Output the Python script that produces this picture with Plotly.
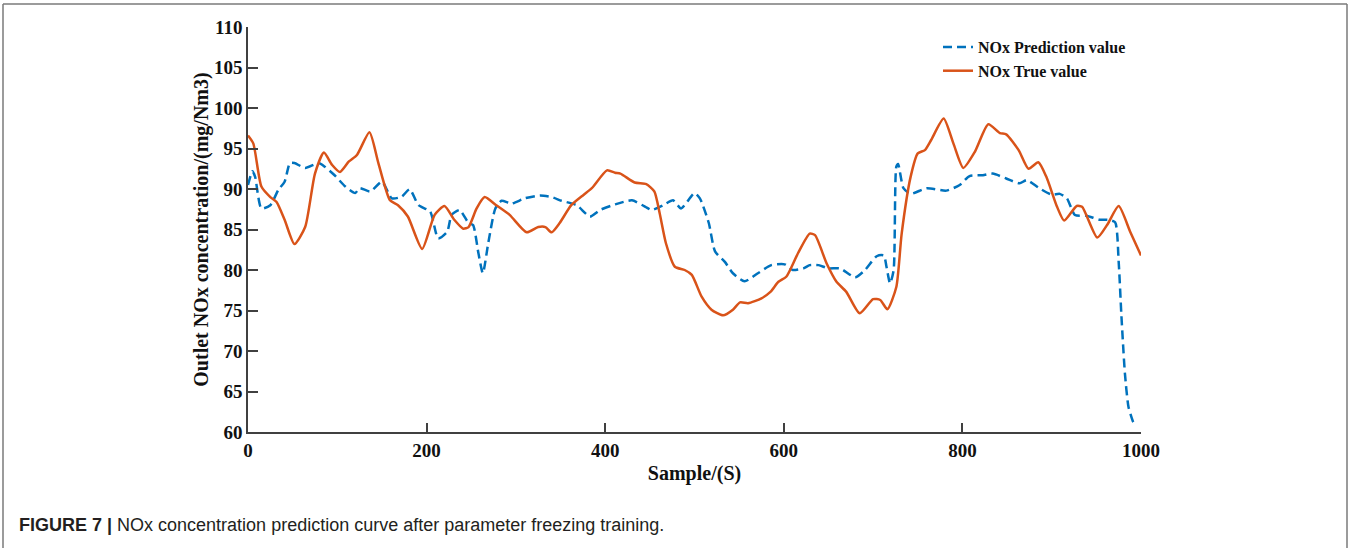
import plotly.graph_objects as go

# ---- data ----
true_x = [0, 6, 15, 25, 32, 41, 52, 64, 75, 85, 94, 103, 113, 122, 136, 146, 159, 168, 179, 195,
          209, 220, 231, 241, 247, 256, 265, 278, 293, 312, 325, 333, 340, 349, 362, 376, 385, 402,
          411, 417, 433, 446, 455, 461, 468, 478, 489, 497, 508, 519, 532, 543, 551, 560, 575, 585,
          594, 603, 616, 629, 635, 648, 659, 670, 685, 700, 708, 716, 726, 732, 742, 750, 758, 765,
          779, 790, 801, 814, 829, 842, 849, 863, 874, 885, 894, 906, 914, 928, 934, 951, 962, 975,
          988, 1000]
true_y = [96.6, 95.6, 90.3, 89.0, 88.4, 86.2, 83.2, 85.3, 91.9, 94.5, 93.0, 92.1, 93.4, 94.2, 97.0,
          93.2, 88.6, 88.0, 86.6, 82.6, 86.8, 87.9, 86.2, 85.1, 85.3, 87.6, 89.0, 88.0, 86.8, 84.65,
          85.3, 85.3, 84.65, 85.8, 88.0, 89.3, 90.1, 92.3, 92.0, 91.9, 90.8, 90.6, 89.7, 87.0, 83.3,
          80.4, 80.0, 79.4, 76.7, 75.1, 74.4, 75.1, 76.0, 75.9, 76.5, 77.3, 78.55, 79.2, 82.1, 84.5,
          84.3, 80.8, 78.55, 77.3, 74.65, 76.4, 76.3, 75.15, 77.9, 84.5, 91.5, 94.4, 94.8, 96.05,
          98.7, 95.6, 92.6, 94.6, 98.0, 96.9, 96.75, 94.8, 92.5, 93.3, 91.5, 87.8, 86.1, 87.9, 87.8,
          84.0, 85.55, 87.9, 84.7, 81.8]

pred_x = [0, 5, 8, 15, 25, 34, 41, 47, 52, 64, 79, 86, 97, 109, 120, 125, 137, 150, 161, 172, 181,
          191, 204, 213, 223, 228, 237, 247, 252, 258, 263, 269, 277, 284, 295, 310, 327, 340, 351,
          368, 383, 394, 411, 430, 445, 452, 465, 476, 485, 500, 506, 516, 523, 534, 543, 556, 571,
          586, 601, 610, 622, 629, 639, 650, 663, 680, 691, 704, 712, 715, 719, 723, 726, 728, 734,
          742, 760, 782, 797, 808, 823, 834, 849, 864, 872, 886, 900, 909, 917, 926, 939, 954, 963,
          971, 975, 978, 982, 986, 991, 993]
pred_y = [90.5, 92.2, 91.5, 87.6, 88.0, 89.9, 90.9, 93.2, 93.2, 92.6, 93.2, 92.75, 91.7, 90.3, 89.5,
          90.1, 89.7, 90.9, 88.85, 89.05, 89.96, 88.0, 87.2, 83.9, 84.7, 86.8, 87.4, 85.8, 85.55,
          82.1, 79.6, 83.3, 87.6, 88.55, 88.2, 88.85, 89.2, 89.0, 88.55, 88.0, 86.6, 87.4, 88.1,
          88.6, 87.8, 87.4, 88.0, 88.6, 87.6, 89.5, 88.85, 85.8, 82.3, 81.0, 79.6, 78.6, 79.6, 80.6,
          80.7, 80.0, 80.2, 80.6, 80.6, 80.2, 80.2, 79.1, 80.0, 81.7, 81.8, 80.4, 78.35, 80.0, 92.75,
          93.1, 90.1, 89.4, 90.1, 89.8, 90.5, 91.6, 91.7, 91.9, 91.3, 90.7, 91.1, 90.1, 89.3, 89.4,
          88.85, 86.8, 86.7, 86.2, 86.2, 85.9, 81.0, 74.5, 67.2, 63.1, 61.3, 60.9]

x_ticks = [0, 200, 400, 600, 800, 1000]
y_ticks = [60, 65, 70, 75, 80, 85, 90, 95, 100, 105, 110]

SERIF = "Liberation Serif"
AX = "#404040"

fig = go.Figure()
fig.add_trace(go.Scatter(
    x=pred_x, y=pred_y, mode="lines", name="NOx Prediction value",
    line=dict(color="#0072BD", width=2.5, dash="9px,5px", shape="spline", smoothing=0.6),
))
fig.add_trace(go.Scatter(
    x=true_x, y=true_y, mode="lines", name="NOx True value",
    line=dict(color="#D95319", width=2.5, shape="spline", smoothing=0.6),
))

L, R, T, B = 248, 210, 27, 116
W, H = 1351, 548
pw, ph = W - L - R, H - T - B


def px(xp):
    return (xp - L) / pw


def py(yp):
    return (H - B - yp) / ph


fig.update_layout(
    width=W, height=H, autosize=False,
    margin=dict(l=L, r=R, t=T, b=B, pad=0),
    paper_bgcolor="white", plot_bgcolor="white",
    showlegend=True,
    legend=dict(
        x=px(938), y=py(30), xanchor="left", yanchor="top",
        bgcolor="rgba(0,0,0,0)", borderwidth=0,
        font=dict(family=SERIF, size=16, color="#111", weight="bold"),
        tracegroupgap=0,
    ),
    xaxis=dict(
        range=[0, 1000], tickvals=x_ticks, ticktext=[str(v) for v in x_ticks],
        ticks="inside", ticklen=9, tickwidth=1.5, tickcolor=AX,
        showline=True, linecolor=AX, linewidth=1.5, mirror=False,
        showgrid=False, zeroline=False,
        tickfont=dict(family=SERIF, size=19, color="#111", weight="bold"),
        title=dict(text="Sample/(S)", standoff=6,
                   font=dict(family=SERIF, size=20, color="#111", weight="bold")),
    ),
    yaxis=dict(
        range=[60, 110], tickvals=y_ticks, ticktext=[str(v) for v in y_ticks],
        ticks="inside", ticklen=10, tickwidth=1.5, tickcolor=AX,
        showline=True, linecolor=AX, linewidth=1.5, mirror=False,
        showgrid=False, zeroline=False,
        tickfont=dict(family=SERIF, size=19, color="#111", weight="bold"),
        title=dict(text="Outlet NOx concentration/(mg/Nm3)", standoff=0,
                   font=dict(family=SERIF, size=20, color="#111", weight="bold")),
    ),
)

# outer frame (top, left, right)
frame = dict(color="#7a7a7a", width=1.5)
fig.add_shape(type="line", xref="paper", yref="paper", x0=px(3), x1=px(1347), y0=py(4), y1=py(4), line=frame)
fig.add_shape(type="line", xref="paper", yref="paper", x0=px(3), x1=px(3), y0=py(4), y1=py(560), line=frame)
fig.add_shape(type="line", xref="paper", yref="paper", x0=px(1347), x1=px(1347), y0=py(4), y1=py(560), line=frame)

fig.add_annotation(
    xref="paper", yref="paper", x=px(17), y=py(525), xanchor="left", yanchor="middle",
    showarrow=False,
    text="<b>FIGURE 7 |</b> NOx concentration prediction curve after parameter freezing training.",
    font=dict(family="Liberation Sans", size=18, color="#231f20"),
)

fig.write_html("out.html")
